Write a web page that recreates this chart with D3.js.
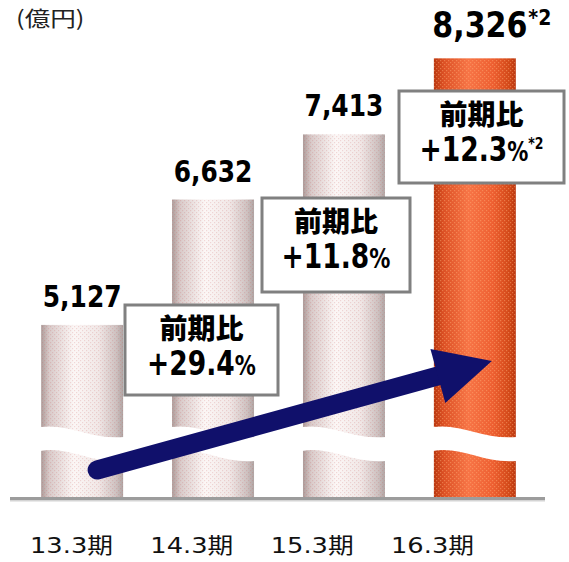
<!DOCTYPE html>
<html>
<head>
<meta charset="utf-8">
<script src="https://cdn.jsdelivr.net/npm/d3@7/dist/d3.min.js"></script>
<style>
  html, body { margin: 0; padding: 0; background: #ffffff; }
  svg { display: block; }
</style>
</head>
<body>
<svg id="chart" width="569" height="562"></svg>
<script>
// ---------------- data ----------------
const categories   = ["13.3期", "14.3期", "15.3期", "16.3期"];
const values       = [5127, 6632, 7413, 8326];
const valueLabels  = ["5,127", "6,632", "7,413", "8,326"];
const valueNotes   = ["", "", "", "*2"];
const highlight    = [false, false, false, true];
const growthTitle  = "前期比";
const growthValues = ["+29.4", "+11.8", "+12.3"];
const growthNotes  = ["", "", "*2"];
const unitLabel    = "(億円)";

// ---------------- layout ----------------
const W = 569, H = 562;
const baseY = 498;
const boxes = [
  { x: 125, y: 305, w: 153, h: 90 },
  { x: 262, y: 198, w: 148, h: 94 },
  { x: 399, y: 91,  w: 165, h: 92 }
];

const svg = d3.select("#chart");
const defs = svg.append("defs");

// gradients
function grad(id, stops) {
  const g = defs.append("linearGradient").attr("id", id)
    .attr("x1", "0").attr("x2", "1").attr("y1", "0").attr("y2", "0");
  stops.forEach(s => g.append("stop").attr("offset", s[0]).attr("stop-color", s[1]));
}
grad("gLight", [[0, "#ad9c9a"], [0.1, "#d9cbca"], [0.4, "#fcf7f6"], [0.7, "#f1e8e7"], [0.92, "#cdc1c0"], [1, "#afa4a3"]]);
grad("gOrange", [[0, "#b9360f"], [0.12, "#dc5024"], [0.42, "#f77446"], [0.72, "#ee5f31"], [0.92, "#d24818"], [1, "#b9360f"]]);

function dots(id, color) {
  const p = defs.append("pattern").attr("id", id)
    .attr("patternUnits", "userSpaceOnUse").attr("width", 4).attr("height", 4);
  p.append("rect").attr("x", 0).attr("y", 0).attr("width", 1.2).attr("height", 1.2).attr("fill", color);
  p.append("rect").attr("x", 2).attr("y", 2).attr("width", 1.2).attr("height", 1.2).attr("fill", color);
}
dots("dLight", "rgba(200,90,90,0.2)");
dots("dOrange", "rgba(255,175,120,0.45)");

// ---------------- scales ----------------
const x = d3.scaleBand().domain(categories).range([15, 542])
  .paddingInner(0.374).paddingOuter(0.2);
const y = d3.scaleLinear().domain([3050, 8330]).range([baseY, 58]);
const bw = x.bandwidth();

// ---------------- bars ----------------
const bars = svg.append("g");
categories.forEach((c, i) => {
  const x0 = x(c), top = y(values[i]);
  bars.append("rect").attr("x", x0).attr("y", top).attr("width", bw)
    .attr("height", baseY - top)
    .attr("fill", highlight[i] ? "url(#gOrange)" : "url(#gLight)");
  bars.append("rect").attr("x", x0).attr("y", top).attr("width", bw)
    .attr("height", baseY - top)
    .attr("fill", highlight[i] ? "url(#dOrange)" : "url(#dLight)");
});

// axis break (white wavy band across each bar)
categories.forEach((c) => {
  const x0 = x(c) - 1, x1 = x(c) + bw + 1, w = x1 - x0;
  const p = d3.path();
  p.moveTo(x0, 427);
  p.bezierCurveTo(x0 + w * 0.35, 423, x0 + w * 0.6, 440, x1, 437);
  p.lineTo(x1, 461);
  p.bezierCurveTo(x0 + w * 0.6, 464, x0 + w * 0.35, 446, x0, 451);
  p.closePath();
  svg.append("path").attr("d", p.toString()).attr("fill", "#ffffff");
});

// baseline
svg.append("rect").attr("x", 10).attr("y", baseY - 1).attr("width", 535).attr("height", 3)
  .attr("fill", "#9c9c9c");
svg.append("rect").attr("x", 10).attr("y", baseY + 2).attr("width", 535).attr("height", 1.5)
  .attr("fill", "#d4d4d4");

// ---------------- arrow ----------------
(function () {
  const sx = x(categories[0]) + bw / 2 + 15, sy = 470;
  const tx = x(categories[3]) + bw / 2 + 17, ty = 361;
  const dx = tx - sx, dy = ty - sy, L = Math.hypot(dx, dy);
  const ux = dx / L, uy = dy / L, nx = -uy, ny = ux;
  const headL = 56, headW = 28;
  const bx = tx - ux * headL, by = ty - uy * headL;
  const navy = "#10106b";
  svg.append("line").attr("x1", sx).attr("y1", sy).attr("x2", bx + ux * 4).attr("y2", by + uy * 4)
    .attr("stroke", navy).attr("stroke-width", 19).attr("stroke-linecap", "round");
  svg.append("path")
    .attr("d", `M${tx},${ty} L${bx + nx * headW},${by + ny * headW} L${bx - nx * headW},${by - ny * headW} Z`)
    .attr("fill", navy);
})();

// ---------------- value labels ----------------
const boldFont = "'DejaVu Sans', Verdana, sans-serif";
categories.forEach((c, i) => {
  const big = valueNotes[i] !== "";
  const fs = big ? 35 : 30;
  const sxl = big ? 0.86 : 0.83;
  const cx = x(c) + bw / 2 + (big ? 5 : 0);
  const g = svg.append("g")
    .attr("transform", `translate(${cx},${y(values[i]) - (big ? 21 : 18)}) scale(${sxl},1)`);
  const t = g.append("text").attr("x", 0).attr("y", 0)
    .attr("text-anchor", "middle")
    .attr("font-family", boldFont).attr("font-weight", "bold")
    .attr("font-size", fs).attr("fill", "#000").text(valueLabels[i]);
  if (big) {
    const wv = t.node().getComputedTextLength();
    g.append("text").attr("x", wv / 2 + 1).attr("y", -12)
      .attr("font-family", boldFont).attr("font-weight", "bold")
      .attr("font-size", 22).attr("fill", "#000").text(valueNotes[i]);
  }
});

// ---------------- growth callouts ----------------
growthValues.forEach((gv, i) => {
  const b = boxes[i];
  svg.append("rect").attr("x", b.x).attr("y", b.y).attr("width", b.w).attr("height", b.h)
    .attr("fill", "#ffffff").attr("stroke", "#808080").attr("stroke-width", 3);
  const cx = b.x + b.w / 2;
  svg.append("text").attr("x", cx).attr("y", b.y + 34)
    .attr("text-anchor", "middle")
    .attr("font-family", "'Noto Sans CJK JP', sans-serif").attr("font-weight", "900")
    .attr("font-size", 28).attr("fill", "#000").text(growthTitle);
  const g = svg.append("g").attr("transform", `translate(${cx},${b.y + 70}) scale(0.78,1)`);
  const t = g.append("text").attr("x", 0).attr("y", 0).attr("text-anchor", "middle")
    .attr("font-family", boldFont).attr("font-weight", "bold").attr("fill", "#000");
  t.append("tspan").attr("font-size", 34).text(gv);
  t.append("tspan").attr("font-size", 27).text("%");
  if (growthNotes[i]) {
    t.append("tspan").attr("font-size", 16).attr("dy", -12).text(growthNotes[i]);
  }
});

// ---------------- category axis ----------------
const xLab = d3.scalePoint().domain(categories).range([71, 432]);
const axis = svg.append("g").attr("transform", `translate(0,553)`)
  .call(d3.axisBottom(xLab).tickSize(0).tickPadding(0));
axis.select(".domain").remove();
axis.selectAll("text")
  .attr("y", 0).attr("dy", null)
  .attr("font-family", "'DejaVu Sans', 'Noto Sans CJK JP', sans-serif")
  .attr("font-size", 22).attr("fill", "#111")
  .attr("transform", "scale(1.17,1)");

// ---------------- unit label ----------------
svg.append("g").attr("transform", "translate(16,26) scale(1.22,1)")
  .append("text").attr("x", 0).attr("y", 0)
  .attr("font-family", "'Noto Sans CJK JP', sans-serif")
  .attr("font-size", 21).attr("fill", "#222").text(unitLabel);
</script>
</body>
</html>
